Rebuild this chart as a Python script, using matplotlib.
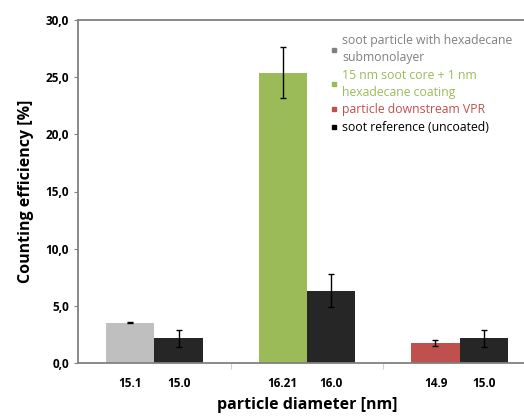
import numpy as np
import matplotlib.pyplot as plt
from matplotlib.lines import Line2D

plt.rcParams['font.family'] = ['Open Sans', 'DejaVu Sans']

# data
groups = ["soot particle with hexadecane\nsubmonolayer",
          "15 nm soot core + 1 nm\nhexadecane coating",
          "particle downstream VPR"]
group_colors = ["#bfbfbf", "#9bbb59", "#c0504d"]
coated_eff = [3.52, 25.4, 1.72]
coated_err = [0.05, 2.25, 0.25]
coated_diam = ["15.1", "16.21", "14.9"]
ref_eff = [2.16, 6.33, 2.16]
ref_err = [0.75, 1.45, 0.75]
ref_diam = ["15.0", "16.0", "15.0"]
ref_label = "soot reference (uncoated)"
ref_color = "#262626"
legend_colors = ["#808080", "#9bbb59", "#c0504d", "#000000"]

fig = plt.figure(figsize=(5.24, 4.17), dpi=100)
ax = fig.add_axes([78 / 524, 54 / 417, 458 / 524, 343 / 417])

x = np.arange(len(groups))
w = 0.317
ekw = dict(ecolor="black", elinewidth=1, capsize=2, capthick=1)
ax.bar(x - w / 2, coated_eff, w, color=group_colors, yerr=coated_err, error_kw=ekw, zorder=2)
ax.bar(x + w / 2, ref_eff, w, color=ref_color, yerr=ref_err, error_kw=ekw, zorder=2)

ax.set_xlim(-0.5, 2.5)
ax.set_ylim(0, 30)
ax.set_yticks(np.arange(0, 31, 5))
ax.set_yticklabels([f"{v:.1f}".replace(".", ",") for v in np.arange(0, 31, 5)],
                   fontsize=8.5, fontweight="bold")

# diameter labels under each bar, group separators as ticks
ax.set_xticks([0.5, 1.5])
ax.set_xticklabels([])
ax.tick_params(axis="x", length=4, color="#d0d0d0", direction="out")
ax.tick_params(axis="y", length=3, color="#808080", direction="out")
pos = list(x - w / 2) + list(x + w / 2)
labs = coated_diam + ref_diam
for p, t in zip(pos, labs):
    ax.text(p, -0.06, t, transform=ax.get_xaxis_transform(), ha="center", va="center",
            fontsize=8.5, fontweight="bold")

for s in ["left", "bottom", "top", "right"]:
    ax.spines[s].set_color("#808080")
    ax.spines[s].set_linewidth(1.3)

ax.set_xlabel("particle diameter [nm]", fontsize=11.5, fontweight="bold", labelpad=17)
ax.set_ylabel("Counting efficiency [%]", fontsize=11.5, fontweight="bold", labelpad=8)

handles = [Line2D([], [], marker="s", ls="none", color=c, markersize=3)
           for c in legend_colors]
leg = ax.legend(handles, groups + [ref_label], loc="upper left",
                bbox_to_anchor=(324 / 524, 1 - 28 / 417), bbox_transform=fig.transFigure,
                frameon=False, fontsize=8.8, handlelength=0.6, handletextpad=0.4,
                labelspacing=0.38, borderpad=0)
for t, c in zip(leg.get_texts(), legend_colors):
    t.set_color(c)
    t.set_linespacing(1.4)

fig.savefig("out.png", dpi=100)
